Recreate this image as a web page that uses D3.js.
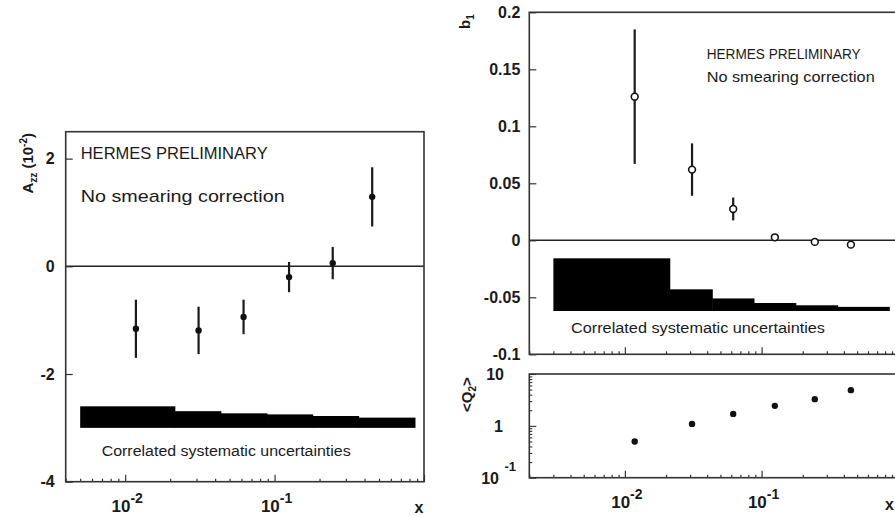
<!DOCTYPE html>
<html lang="en">
<head>
<meta charset="UTF-8">
<title>HERMES b1 / Azz</title>
<script src="https://cdn.jsdelivr.net/npm/d3@7"></script>
<style>
  body { margin: 0; background: #fff; }
  svg { display: block; }
  text { fill: #1a1a1a; font-family: "Liberation Sans", Arial, sans-serif; }
  .tick text { font-weight: bold; font-size: 16px; }
  .domain { display: none; }
</style>
</head>
<body>
<script>
// x bins (Bjorken x) shared by both panels
var xVals = [0.0118, 0.031, 0.062, 0.125, 0.245, 0.45];

// left panel: A_zz (10^-2)
var azz = [-1.16, -1.19, -0.94, -0.2, 0.06, 1.29];
var azzErr = [0.54, 0.44, 0.32, 0.28, 0.30, 0.55];
var azzSysEdges = [0.005, 0.0215, 0.0437, 0.089, 0.18, 0.365, 0.87];
var azzSysTop = [-2.6, -2.69, -2.73, -2.75, -2.78, -2.81];
var azzSysBottom = -3.0;

// right panel: b1
var b1 = [0.126, 0.062, 0.0275, 0.0026, -0.0014, -0.0038];
var b1Err = [0.059, 0.023, 0.01, 0.003, 0.0015, 0.003];
var b1SysEdges = [0.003, 0.0213, 0.0436, 0.088, 0.178, 0.36, 0.86];
var b1SysTop = [-0.0158, -0.043, -0.051, -0.055, -0.057, -0.0584];
var b1SysBottom = -0.062;

// right lower panel: <Q2>
var q2 = [0.5, 1.09, 1.7, 2.43, 3.27, 4.88];

var azzTicks = [-4, -2, 0, 2];
var b1Ticks = [-0.1, -0.05, 0, 0.05, 0.1, 0.15, 0.2];

var svg = d3.select("body").append("svg")
    .attr("width", 895)
    .attr("height", 516);

function isDecade(v) {
    var l = Math.log10(v);
    return Math.abs(l - Math.round(l)) < 1e-6;
}

// log x axis with inward minor/major ticks at the bottom of a frame
function logXAxis(x, yBottom) {
    var all = x.ticks();
    svg.append("g")
        .attr("transform", "translate(0," + yBottom + ")")
        .call(d3.axisBottom(x).tickValues(all.filter(function (v) { return !isDecade(v); }))
            .tickSize(-3).tickFormat(""))
        .selectAll("line").attr("stroke", "#333").attr("stroke-width", 1.2);
    svg.append("g")
        .attr("transform", "translate(0," + yBottom + ")")
        .call(d3.axisBottom(x).tickValues(all.filter(isDecade))
            .tickSize(-7).tickFormat(""))
        .selectAll("line").attr("stroke", "#333").attr("stroke-width", 1.2);
}

function powLabel(x, y, base, exp, size) {
    var t = svg.append("text")
        .attr("x", x).attr("y", y)
        .attr("text-anchor", "middle")
        .attr("font-weight", "bold")
        .attr("font-size", size);
    t.append("tspan").text(base);
    t.append("tspan").attr("dy", -9).attr("font-size", size - 3).text(exp);
    return t;
}

function frame(x0, y0, x1, y1) {
    svg.append("rect")
        .attr("x", x0).attr("y", y0)
        .attr("width", x1 - x0).attr("height", y1 - y0)
        .attr("fill", "none").attr("stroke", "#333").attr("stroke-width", 1.6);
}

function errorBars(x, y, vals, errs) {
    svg.append("g").selectAll("line")
        .data(vals)
        .join("line")
        .attr("x1", function (d, i) { return x(xVals[i]); })
        .attr("x2", function (d, i) { return x(xVals[i]); })
        .attr("y1", function (d, i) { return y(d + errs[i]); })
        .attr("y2", function (d, i) { return y(d - errs[i]); })
        .attr("stroke", "#1a1a1a").attr("stroke-width", 2.2);
}

function sysBand(x, y, edges, tops, bottom) {
    svg.append("g").selectAll("rect")
        .data(tops)
        .join("rect")
        .attr("x", function (d, i) { return x(edges[i]); })
        .attr("width", function (d, i) { return x(edges[i + 1]) - x(edges[i]) + 0.5; })
        .attr("y", function (d) { return y(d); })
        .attr("height", function (d) { return y(bottom) - y(d); })
        .attr("fill", "#000");
}

function note(x, y, str, size, len) {
    svg.append("text")
        .attr("x", x).attr("y", y)
        .attr("font-size", size)
        .attr("textLength", len)
        .attr("lengthAdjust", "spacingAndGlyphs")
        .text(str);
}

// plain hyphen minus, like the original plot
function plain(d) { return String(+(+d).toFixed(2)); }

// ---------------- left panel ----------------
var xL = d3.scaleLog().domain([0.004, 1]).range([65.7, 424]);
var yL = d3.scaleLinear().domain([-4, 2.5]).range([481.7, 131.7]);

sysBand(xL, yL, azzSysEdges, azzSysTop, azzSysBottom);

svg.append("line")
    .attr("x1", xL.range()[0]).attr("x2", xL.range()[1])
    .attr("y1", yL(0)).attr("y2", yL(0))
    .attr("stroke", "#222").attr("stroke-width", 1.5);

svg.append("g")
    .attr("transform", "translate(" + xL.range()[0] + ",0)")
    .call(d3.axisLeft(yL).tickValues(azzTicks).tickSize(-7).tickPadding(11).tickFormat(plain))
    .call(function (g) {
        g.selectAll("line").attr("stroke", "#333").attr("stroke-width", 1.2);
        g.selectAll("text").attr("fill", "#1a1a1a");
    });

logXAxis(xL, yL.range()[0]);
frame(xL.range()[0], yL.range()[1], xL.range()[1], yL.range()[0]);

errorBars(xL, yL, azz, azzErr);
svg.append("g").selectAll("circle")
    .data(azz)
    .join("circle")
    .attr("cx", function (d, i) { return xL(xVals[i]); })
    .attr("cy", function (d) { return yL(d); })
    .attr("r", 3.2)
    .attr("fill", "#111");

powLabel(xL(0.01) + 2, 512, "10", "-2", 17);
powLabel(xL(0.1) + 2, 512, "10", "-1", 17);
svg.append("text").attr("x", 419).attr("y", 513)
    .attr("text-anchor", "middle").attr("font-weight", "bold").attr("font-size", 16).text("x");

var yLab = svg.append("text")
    .attr("transform", "translate(33,133) rotate(-90)")
    .attr("text-anchor", "end")
    .attr("font-weight", "bold").attr("font-size", 15);
yLab.append("tspan").text("A");
yLab.append("tspan").attr("dy", 4).attr("font-size", 10).text("zz");
yLab.append("tspan").attr("dy", -4).text(" (10");
yLab.append("tspan").attr("dy", -6).attr("font-size", 10).text("-2");
yLab.append("tspan").attr("dy", 6).text(")");

note(80.7, 159, "HERMES PRELIMINARY", 16.5, 187);
note(80.7, 202, "No smearing correction", 17, 204);
note(101.7, 456, "Correlated systematic uncertainties", 14, 249);

// ---------------- right upper panel ----------------
var xR = d3.scaleLog().domain([0.002, 1]).range([529.3, 898.3]);
var yR = d3.scaleLinear().domain([-0.1, 0.2]).range([354.3, 12.3]);

sysBand(xR, yR, b1SysEdges, b1SysTop, b1SysBottom);

svg.append("line")
    .attr("x1", xR.range()[0]).attr("x2", xR.range()[1])
    .attr("y1", yR(0)).attr("y2", yR(0))
    .attr("stroke", "#222").attr("stroke-width", 1.5);

svg.append("g")
    .attr("transform", "translate(" + xR.range()[0] + ",0)")
    .call(d3.axisLeft(yR).tickValues(b1Ticks).tickSize(-7).tickPadding(9).tickFormat(plain))
    .call(function (g) {
        g.selectAll("line").attr("stroke", "#333").attr("stroke-width", 1.2);
        g.selectAll("text").attr("fill", "#1a1a1a");
    });

logXAxis(xR, yR.range()[0]);
frame(xR.range()[0], yR.range()[1], xR.range()[1], yR.range()[0]);

errorBars(xR, yR, b1, b1Err);
svg.append("g").selectAll("circle")
    .data(b1)
    .join("circle")
    .attr("cx", function (d, i) { return xR(xVals[i]); })
    .attr("cy", function (d) { return yR(d); })
    .attr("r", 3.4)
    .attr("fill", "#fff")
    .attr("stroke", "#111")
    .attr("stroke-width", 1.6);

var bLab = svg.append("text")
    .attr("transform", "translate(470,29) rotate(-90)")
    .attr("font-weight", "bold").attr("font-size", 15);
bLab.append("tspan").text("b");
bLab.append("tspan").attr("dy", 4).attr("font-size", 10).text("1");

note(706.7, 59, "HERMES PRELIMINARY", 14, 154);
note(706.7, 82, "No smearing correction", 14.5, 168);
note(571, 333, "Correlated systematic uncertainties", 14, 254);

// ---------------- right lower panel ----------------
var yQ = d3.scaleLog().domain([0.1, 10]).range([477.7, 374]);

var qAll = yQ.ticks();
svg.append("g")
    .attr("transform", "translate(" + xR.range()[0] + ",0)")
    .call(d3.axisLeft(yQ).tickValues(qAll.filter(function (v) { return !isDecade(v); })).tickSize(-3).tickFormat(""))
    .selectAll("line").attr("stroke", "#333").attr("stroke-width", 1.1);
svg.append("g")
    .attr("transform", "translate(" + xR.range()[0] + ",0)")
    .call(d3.axisLeft(yQ).tickValues(qAll.filter(isDecade)).tickSize(-7).tickFormat(""))
    .selectAll("line").attr("stroke", "#333").attr("stroke-width", 1.1);

logXAxis(xR, yQ.range()[0]);
frame(xR.range()[0], yQ.range()[1], xR.range()[1], yQ.range()[0]);

svg.append("g").selectAll("circle")
    .data(q2)
    .join("circle")
    .attr("cx", function (d, i) { return xR(xVals[i]); })
    .attr("cy", function (d) { return yQ(d); })
    .attr("r", 3.2)
    .attr("fill", "#111");

svg.append("text").attr("x", 504).attr("y", yQ(10) + 6)
    .attr("text-anchor", "end").attr("font-weight", "bold").attr("font-size", 16).text("10");
svg.append("text").attr("x", 503).attr("y", yQ(1) + 6)
    .attr("text-anchor", "end").attr("font-weight", "bold").attr("font-size", 16).text("1");
svg.append("text").attr("x", 499).attr("y", yQ(0.1) + 6)
    .attr("text-anchor", "end").attr("font-weight", "bold").attr("font-size", 16).text("10");
svg.append("text").attr("x", 516).attr("y", yQ(0.1) - 7)
    .attr("text-anchor", "end").attr("font-weight", "bold").attr("font-size", 13).text("-1");

var qLab = svg.append("text")
    .attr("transform", "translate(472,412) rotate(-90)")
    .attr("font-weight", "bold").attr("font-size", 15);
qLab.append("tspan").text("<Q");
qLab.append("tspan").attr("dy", 4).attr("font-size", 10).text("2");
qLab.append("tspan").attr("dy", -4).text(">");

powLabel(xR(0.01) + 2, 508, "10", "-2", 17);
powLabel(xR(0.1) + 2, 508, "10", "-1", 17);
svg.append("text").attr("x", 885).attr("y", 510)
    .attr("font-weight", "bold").attr("font-size", 16).text("x");
</script>
</body>
</html>
